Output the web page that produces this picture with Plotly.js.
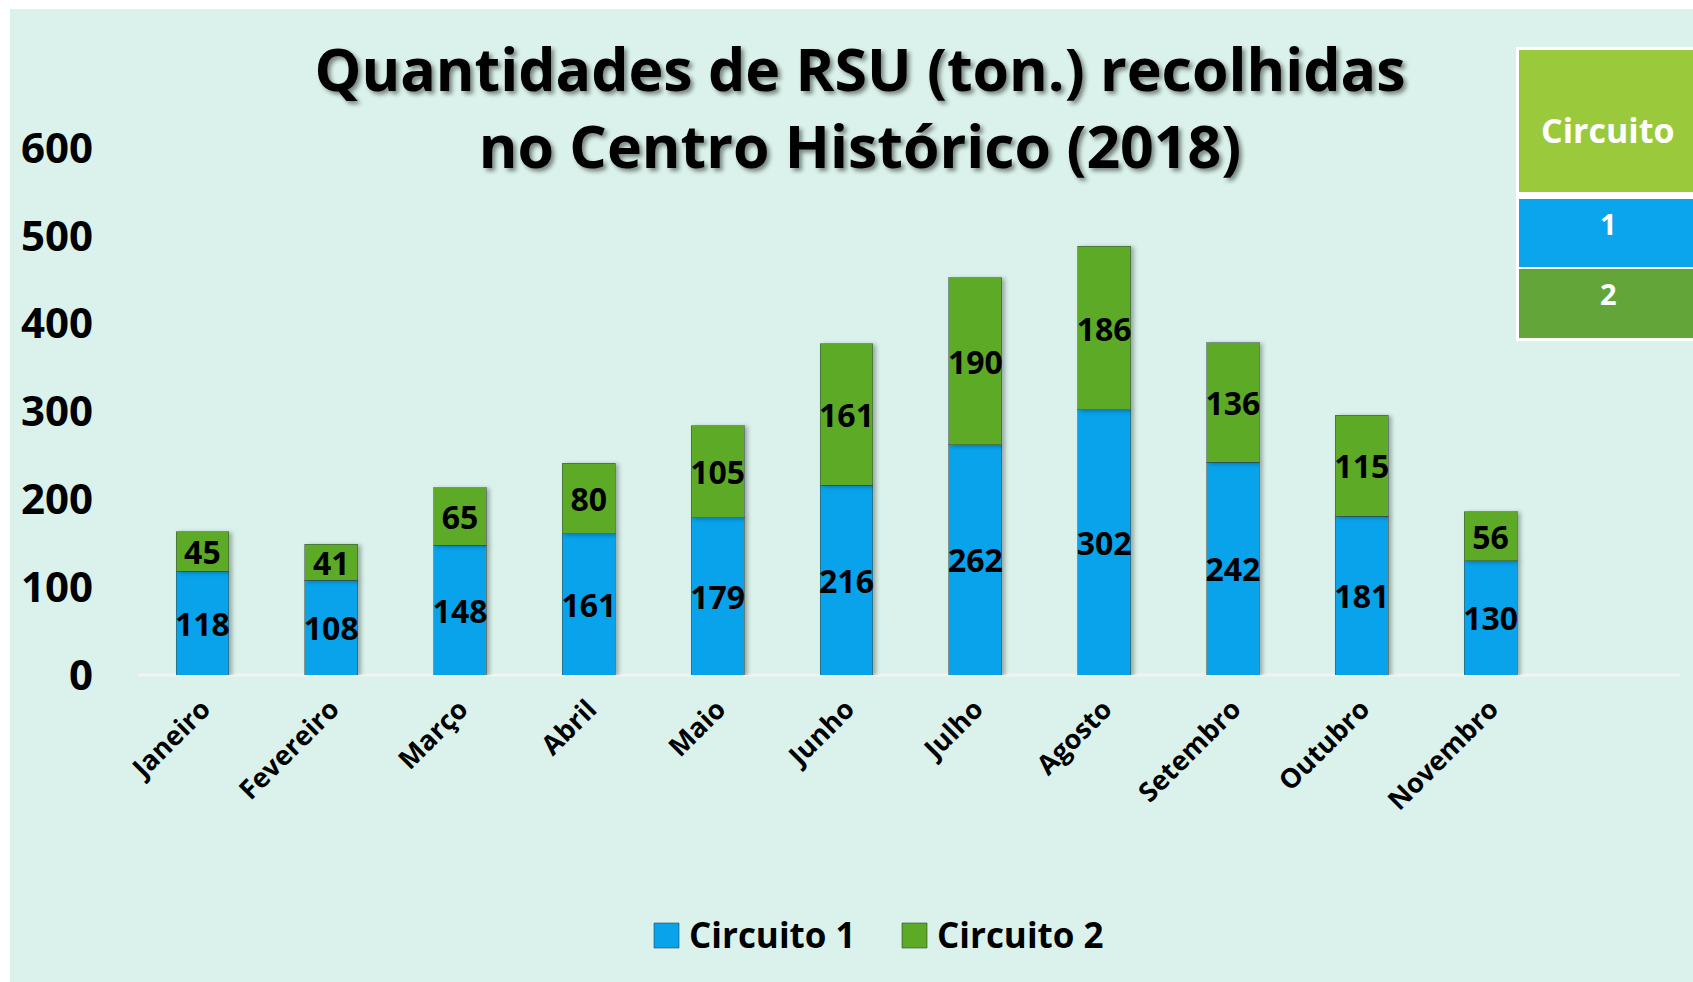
<!DOCTYPE html>
<html>
<head>
<meta charset="utf-8">
<script src="https://cdn.plot.ly/plotly-3.0.1.min.js"></script>
<style>html,body{margin:0;padding:0;background:#fff;}#chart{width:1693px;height:982px;}</style>
</head>
<body>
<div id="chart"></div>
<script>
// ---- data ----
var months = ["Janeiro","Fevereiro","Março","Abril","Maio","Junho","Julho","Agosto","Setembro","Outubro","Novembro"];
var circuito1 = [118,108,148,161,179,216,262,302,242,181,130];
var circuito2 = [45,41,65,80,105,161,190,186,136,115,56];
var seriesNames = ["Circuito 1","Circuito 2"];
var titleText = "Quantidades de RSU (ton.) recolhidas<br>no Centro Histórico (2018)";

// ---- layout geometry (pixels) ----
var FW = 1693, FH = 982;
var L = 138, R = 1555, T = 148, B = 675;
var W = R - L, H = B - T;
function px(x){ return (x - L) / W; }
function py(y){ return (B - y) / H; }

var FONT = "Open Sans, Lato, sans-serif";
var blue = "#08A3EA", green = "#5DAA27";

var traces = [
  {type:"bar", name:seriesNames[0], x:months, y:circuito1,
   marker:{color:blue, line:{color:"rgba(60,80,70,0.55)", width:1}},
   texttemplate:"%{y}", textposition:"inside", insidetextanchor:"middle",
   textangle:0, constraintext:"none",
   textfont:{family:FONT, size:32, color:"#000", weight:700}, hoverinfo:"x+y+name"},
  {type:"bar", name:seriesNames[1], x:months, y:circuito2,
   marker:{color:green, line:{color:"rgba(60,80,70,0.55)", width:1}},
   texttemplate:"%{y}", textposition:"inside", insidetextanchor:"middle",
   textangle:0, constraintext:"none",
   textfont:{family:FONT, size:32, color:"#000", weight:700}, hoverinfo:"x+y+name"}
];

var shapes = [
  // mint background
  {type:"rect", xref:"paper", yref:"paper", layer:"below",
   x0:px(10), x1:px(1700), y0:py(9), y1:py(990),
   fillcolor:"#DAF2EB", line:{width:0}},
  // baseline
  {type:"line", xref:"paper", yref:"paper", layer:"below",
   x0:0, x1:px(1680), y0:0, y1:0, line:{color:"rgba(240,244,242,1)", width:3}},
  // top-right table
  {type:"rect", xref:"paper", yref:"paper", x0:px(1516), x1:px(1700), y0:py(47), y1:py(341), fillcolor:"#FFFFFF", line:{width:0}},
  {type:"rect", xref:"paper", yref:"paper", x0:px(1519), x1:px(1700), y0:py(50), y1:py(192), fillcolor:"#9ACA3C", line:{width:0}},
  {type:"rect", xref:"paper", yref:"paper", x0:px(1519), x1:px(1700), y0:py(199), y1:py(267), fillcolor:"#0AA5EC", line:{width:0}},
  {type:"rect", xref:"paper", yref:"paper", x0:px(1519), x1:px(1700), y0:py(269), y1:py(338), fillcolor:"#63A538", line:{width:0}},
  // legend swatches
  {type:"rect", xref:"paper", yref:"paper", x0:px(654), x1:px(679), y0:py(923), y1:py(948), fillcolor:blue, line:{color:"rgba(40,70,90,0.6)", width:1}},
  {type:"rect", xref:"paper", yref:"paper", x0:px(902), x1:px(927), y0:py(923), y1:py(948), fillcolor:green, line:{color:"rgba(40,70,40,0.6)", width:1}}
];

var annotations = [
  {xref:"paper", yref:"paper", x:px(1608), y:py(130), text:"Circuito", showarrow:false, xanchor:"center", yanchor:"middle",
   font:{family:FONT, size:34, color:"#FFFFFF", weight:700}},
  {xref:"paper", yref:"paper", x:px(1608), y:py(223), text:"1", showarrow:false, xanchor:"center", yanchor:"middle",
   font:{family:FONT, size:29, color:"#FFFFFF", weight:700}},
  {xref:"paper", yref:"paper", x:px(1608), y:py(293), text:"2", showarrow:false, xanchor:"center", yanchor:"middle",
   font:{family:FONT, size:29, color:"#FFFFFF", weight:700}},
  {xref:"paper", yref:"paper", x:px(687), y:py(934), text:seriesNames[0], showarrow:false, xanchor:"left", yanchor:"middle",
   font:{family:FONT, size:35, color:"#000", weight:700}},
  {xref:"paper", yref:"paper", x:px(935), y:py(934), text:seriesNames[1], showarrow:false, xanchor:"left", yanchor:"middle",
   font:{family:FONT, size:35, color:"#000", weight:700}}
];

var layout = {
  width:FW, height:FH,
  margin:{l:L, r:FW-R, t:T, b:FH-B, pad:0},
  paper_bgcolor:"#FFFFFF", plot_bgcolor:"rgba(0,0,0,0)",
  barmode:"stack", bargap:0.59,
  showlegend:false,
  title:{text:titleText, x:860/FW, xanchor:"center", xref:"container",
         y:1-91/FH, yanchor:"middle", yref:"container",
         font:{family:FONT, size:59, color:"#000", weight:700, shadow:"3px 3px 4px rgba(0,0,0,0.45)"}},
  xaxis:{type:"category", range:[-0.5,10.5], showgrid:false, zeroline:false, showline:false,
         ticks:"", tickangle:-45, ticklabelstandoff:12,
         tickfont:{family:FONT, size:27, color:"#000", weight:700}},
  yaxis:{range:[0,600], dtick:100, showgrid:false, zeroline:false, showline:false,
         ticks:"", ticklabelstandoff:44,
         tickfont:{family:FONT, size:42, color:"#000", weight:700}},
  shapes:shapes, annotations:annotations,
  font:{family:FONT}
};

Plotly.newPlot("chart", traces, layout, {displayModeBar:false, staticPlot:true}).then(function(gd){
  gd.querySelectorAll(".barlayer .point path").forEach(function(p){
    p.style.filter = "drop-shadow(3px 1px 2px rgba(0,0,0,0.3))";
  });
});
</script>
</body>
</html>
